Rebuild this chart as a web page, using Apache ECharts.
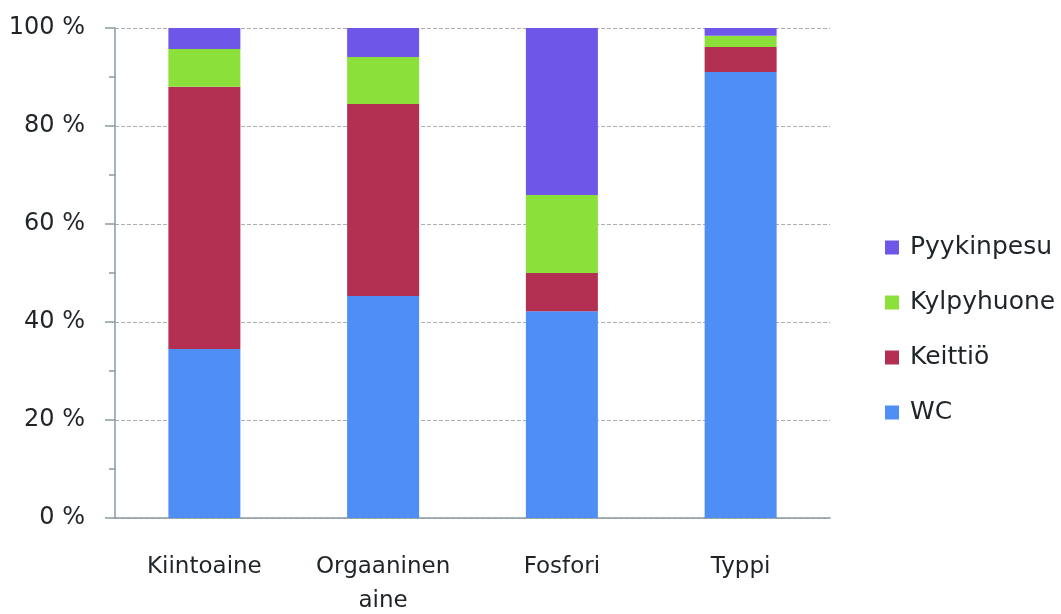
<!DOCTYPE html>
<html>
<head>
<meta charset="utf-8">
<script src="https://cdn.jsdelivr.net/npm/echarts@6/dist/echarts.min.js"></script>
<style>
  html, body { margin: 0; padding: 0; background: #fff; }
  #main { width: 1061px; height: 614px; }
</style>
</head>
<body>
<div id="main"></div>
<script>
// categories and shares (%)
var categories = ['Kiintoaine', 'Orgaaninen\naine', 'Fosfori', 'Typpi'];
var wc         = [34.5, 45.3, 42.2, 91.0];
var keittio    = [53.5, 39.2, 7.8, 5.1];
var kylpyhuone = [7.7, 9.6, 15.9, 2.3];
var pyykinpesu = [4.3, 5.9, 34.1, 1.6];
var yTicks = [0, 20, 40, 60, 80, 100];

var fontFamily = '"DejaVu Sans", sans-serif';
var axisColor = '#8a9aa0';

var chart = echarts.init(document.getElementById('main'));

function barSeries(name, data, color) {
    return {
        name: name,
        type: 'bar',
        stack: 'total',
        barWidth: 72,
        data: data,
        itemStyle: { color: color },
        emphasis: { disabled: true }
    };
}

chart.setOption({
    animation: false,
    textStyle: { fontFamily: fontFamily },
    grid: { left: 115, right: 231, top: 28, bottom: 96, outerBoundsMode: 'none' },
    legend: {
        orient: 'vertical',
        left: 880,
        top: 230,
        itemWidth: 14,
        itemHeight: 14,
        itemGap: 30,
        icon: 'rect',
        textStyle: {
            fontSize: 25, lineHeight: 25, color: '#1e2428',
            fontFamily: fontFamily, padding: [0, 0, 0, 6]
        },
        data: ['Pyykinpesu', 'Kylpyhuone', 'Keittiö', 'WC']
    },
    xAxis: {
        type: 'category',
        data: categories,
        axisLine: { lineStyle: { color: axisColor, width: 1.5 } },
        axisTick: { length: 8, lineStyle: { color: axisColor, width: 1.5 } },
        axisLabel: { fontSize: 23, color: '#1e2428', margin: 32, lineHeight: 34 }
    },
    yAxis: {
        type: 'value',
        min: yTicks[0],
        max: yTicks[yTicks.length - 1],
        interval: 20,
        axisLine: { show: true, lineStyle: { color: axisColor, width: 1.5 } },
        axisTick: { show: true, length: 10, lineStyle: { color: axisColor, width: 1.5 } },
        minorTick: { show: true, splitNumber: 2, length: 6, lineStyle: { color: axisColor, width: 1.5 } },
        splitLine: { lineStyle: { color: '#a8b0b4', type: [4, 2], width: 1 } },
        axisLabel: {
            fontSize: 24,
            color: '#1e2428',
            margin: 30,
            formatter: function (v) { return v + ' %'; }
        }
    },
    series: [
        barSeries('WC', wc, '#4f8ef5'),
        barSeries('Keittiö', keittio, '#b33052'),
        barSeries('Kylpyhuone', kylpyhuone, '#8ce03a'),
        barSeries('Pyykinpesu', pyykinpesu, '#6e57e8')
    ]
});
</script>
</body>
</html>
